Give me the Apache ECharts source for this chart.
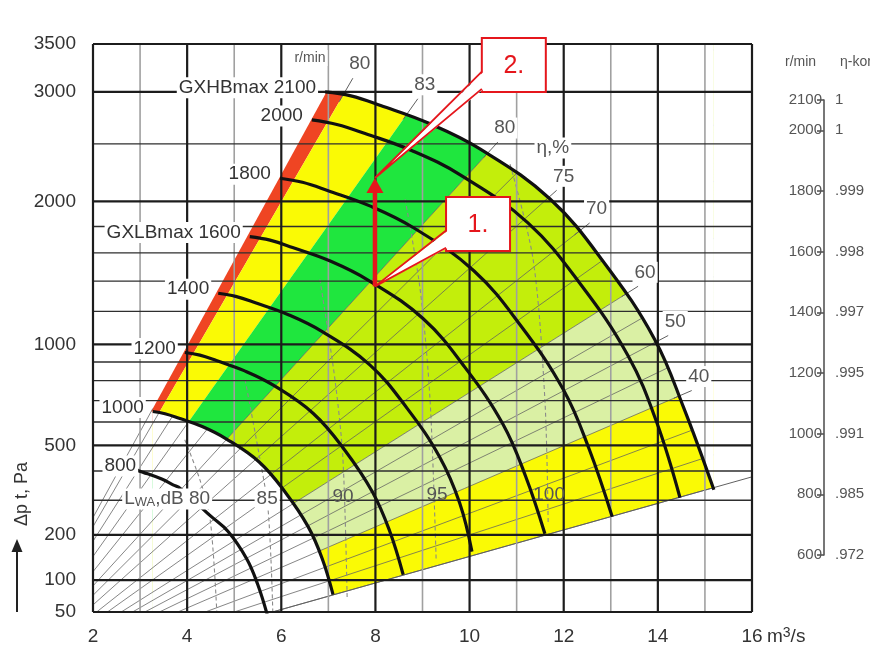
<!DOCTYPE html>
<html>
<head>
<meta charset="utf-8">
<title>GXLB / GXHB fan chart</title>
<script src="https://cdn.jsdelivr.net/npm/echarts@6.0.0/dist/echarts.min.js"></script>
<style>
  html, body { margin: 0; padding: 0; background: #ffffff; }
  #chart { width: 870px; height: 647px; }
</style>
</head>
<body>
<div id="chart"></div>
<script>
// ---------------- Axes ----------------
const flowTicks = [2, 4, 6, 8, 10, 12, 14, 16];                 // m³/s
const flowMinor = [3, 5, 7, 9, 11, 13, 15];
const pressureTicks = [50, 100, 200, 500, 1000, 2000, 3000, 3500]; // Pa
const pressureMinor = [300, 400, 600, 700, 800, 900, 1200, 1400, 1600, 1800, 2500];

// ---------------- Fan speed curves [flow m³/s, total pressure Pa] ----------------
const speeds = [2100, 2000, 1800, 1600, 1400, 1200, 1000, 800];
const curve2100 = [[6.93,3000],[7.48,2960],[8.11,2865],[9.15,2690],[10.22,2455],[11.71,2020],[12.89,1515],[13.93,1030],[14.55,665],[15.19,334]];
const curve2000 = [[6.65,2725],[7.18,2681],[7.78,2596],[8.78,2438],[9.81,2222],[11.24,1828],[12.37,1373],[13.37,933],[13.97,602],[14.47,308]];
const curve1800 = [[5.97,2195],[6.45,2160],[6.98,2091],[7.88,1964],[8.81,1790],[10.09,1472],[11.10,1106],[12.00,751],[12.54,485],[13.03,250]];
const curve1600 = [[5.33,1722],[5.76,1695],[6.24,1640],[7.04,1541],[7.86,1404],[9.01,1155],[9.91,868],[10.71,590],[11.19,381],[11.60,203]];
const curve1400 = [[4.66,1318],[5.03,1297],[5.45,1255],[6.15,1179],[6.87,1075],[7.88,884],[8.67,664],[9.37,451],[9.79,291],[10.05,159]];
const curve1200 = [[3.95,953],[4.27,938],[4.62,908],[5.21,853],[5.83,777],[6.68,639],[7.35,480],[7.94,326],[8.30,211],[8.59,110]];
const curve1000 = [[3.27,648],[3.53,638],[3.83,617],[4.32,580],[4.82,528],[5.53,434],[6.08,327],[6.57,222],[6.87,143],[7.10,75]];
const curve800  = [[2.62,415],[2.83,408],[3.07,395],[3.46,371],[3.70,351],[3.86,338],[4.49,253],[4.87,209],[5.27,142],[5.50,92],[5.70,47]];
const curves = [curve2100, curve2000, curve1800, curve1600, curve1400, curve1200, curve1000, curve800];

// ---------------- System lines p = k·Q²  (k in Pa/(m³/s)²) ----------------
const systemK = [1.48, 2.0, 2.6, 3.46, 4.3, 5.2, 6.2, 7.4, 9.4, 11.6, 14.9, 18.5, 22.4, 29.0, 37.0, 46.0, 55.5, 61.9];
// efficiency marks: [η %, k, flow on the 2100 curve, flow at the label]
const etaLines = [[80,55.5,7.33,7.52],[83,37.0,8.69,8.90],[80,22.4,10.40,10.60],[75,14.9,11.69,11.85],[70,11.6,12.33,12.55],[60,7.4,13.33,13.58],[50,5.2,13.95,14.22],[40,3.46,14.44,14.72]];
// operating bands, bounded by system lines (upper k to lower k)
const bandEdges = [61.9, 55.5, 37.0, 22.4, 7.4, 3.46, 1.48];

// ---------------- Sound power contours, LwA dB ----------------
const noiseLevels = [80, 85, 90, 95, 100];
const noise80  = [[3.95,523],[4.27,369],[4.49,241],[4.63,50]];
const noise85  = [[5.23,806],[5.51,482],[5.72,270],[5.82,50]];
const noise90  = [[6.82,1412],[7.14,806],[7.31,443],[7.40,67]];
const noise95  = [[8.63,2018],[8.95,1344],[9.16,705],[9.29,140]];
const noise100 = [[10.86,2317],[11.35,1553],[11.60,705],[11.67,227]];
const noiseCurves = [noise80, noise85, noise90, noise95, noise100];

// ---------------- Operating point change 1 -> 2 ----------------
const point1 = [7.99, 1364];
const point2 = [7.99, 2197];
const calloutText = ['1.', '2.'];

// ---------------- Speed / efficiency correction scale ----------------
const rpmScale = [2100, 2000, 1800, 1600, 1400, 1200, 1000, 800, 600];
const etaCorrection = ['1', '1', '.999', '.998', '.997', '.995', '.991', '.985', '.972'];

// ================= layout & style =================
const S = p => Math.sqrt(p);          // square-root pressure scale
const FONT = '"Liberation Sans", Arial, Helvetica, sans-serif';
const RED = '#e5161c';
const SMOOTH = 0.4;
const FAR = 40;
const bandColors = ['#ef4523', '#fafa05', '#1fe63e', '#c3ee0b', '#daf0a4', '#fafa05'];
const openBandLimit = bandEdges[3];   // system lines steeper than this stay hidden under the bands
const speedLabelText = { 2100: 'GXHBmax 2100', 1600: 'GXLBmax 1600' };
const speedLabelShift = { 800: [16, -1] };
const etaLabelShift = [7, -14];
const etaUnitAnchor = [11.77, 2463];
const rpmUnitAnchor = [6.61, 3350];
const noiseLabelAnchor = [[2.62, 304], [5.70, 304], [7.31, 310], [9.31, 317], [11.69, 317]];
const calloutBoxAnchor = [[10.18, 1819], [10.94, 3275]];

const xy = arr => arr.map(pt => [pt[0], S(pt[1])]);
const qMin = flowTicks[0], qMax = flowTicks[flowTicks.length - 1];
const pMin = pressureTicks[0], pMax = pressureTicks[pressureTicks.length - 1];

function seg(api, q1, s1, q2, s2, style) {
  const a = api.coord([q1, s1]), b = api.coord([q2, s2]);
  return { type: 'line', shape: { x1: a[0], y1: a[1], x2: b[0], y2: b[1] }, style };
}

// flow where the system line s = c·Q meets the lowest speed curve
function innerCrossing(c) {
  const pts = xy(curve1000);
  for (let i = 0; i < pts.length - 1; i++) {
    const f1 = pts[i][1] - c * pts[i][0], f2 = pts[i + 1][1] - c * pts[i + 1][0];
    if (f1 <= 0 && f2 <= 0) return pts[i][0];
    if (f1 * f2 <= 0) return pts[i][0] + (pts[i + 1][0] - pts[i][0]) * f1 / (f1 - f2);
  }
  return pts[pts.length - 1][0];
}

// ---- grid line list
const gridItems = [
  ...flowMinor.map(v => ({ dir: 'x', v, major: false })),
  ...pressureMinor.map(v => ({ dir: 'y', v, major: false })),
  ...flowTicks.map(v => ({ dir: 'x', v, major: true })),
  ...pressureTicks.map(v => ({ dir: 'y', v, major: true }))
];

// ---- text annotations
const labelItems = [];
speeds.forEach((n, i) => {
  const start = curves[i][0];
  const sh = speedLabelShift[n] || [-7, -4];
  labelItems.push({ q: start[0], p: start[1], dx: sh[0], dy: sh[1], text: speedLabelText[n] || String(n),
    align: 'right', fill: '#333', size: 19, bg: '#fff' });
});
etaLines.forEach(e => {
  labelItems.push({ q: e[3], p: e[1] * e[3] * e[3], dx: etaLabelShift[0], dy: etaLabelShift[1], text: String(e[0]),
    align: 'center', fill: '#555', size: 19, bg: '#fff' });
});
labelItems.push({ q: etaUnitAnchor[0], p: etaUnitAnchor[1], dx: 0, dy: 0, text: 'η,%', align: 'center', fill: '#555', size: 19, bg: '#fff' });
labelItems.push({ q: rpmUnitAnchor[0], p: rpmUnitAnchor[1], dx: 0, dy: 0, text: 'r/min', align: 'center', fill: '#555', size: 14, bg: '#fff' });
noiseLevels.forEach((db, i) => {
  const a = noiseLabelAnchor[i];
  if (i === 0) {
    labelItems.push({ q: a[0], p: a[1], dx: 0, dy: 0, text: '{n|L}{sub|WA}{n|,dB ' + db + '}', align: 'left', fill: '#555', size: 19, bg: '#fff',
      rich: { n: { fontSize: 19, fill: '#555', fontFamily: FONT }, sub: { fontSize: 13, fill: '#555', fontFamily: FONT, verticalAlign: 'bottom', padding: [6, 0, 0, 0] } } });
  } else {
    labelItems.push({ q: a[0], p: a[1], dx: 0, dy: 0, text: String(db), align: 'center', fill: '#555', size: 19, bg: i === 1 ? '#fff' : null });
  }
});
labelItems.push({ q: qMax, p: pMin, dx: 15, dy: 25, text: '{n|m}{sup|3}{n|/s}', align: 'left', fill: '#333', size: 19, bg: null,
  rich: { n: { fontSize: 19, fill: '#333', fontFamily: FONT }, sup: { fontSize: 14, fill: '#333', fontFamily: FONT, verticalAlign: 'top', padding: [0, 0, 8, 0] } } });

const series = [
  // coloured operating bands (wedges between system lines)
  {
    type: 'custom', z: 1, silent: true, clip: true,
    data: bandColors.map((c, i) => [i, 0]),
    renderItem: (params, api) => {
      const i = params.dataIndex;
      const cHi = Math.sqrt(bandEdges[i]), cLo = Math.sqrt(bandEdges[i + 1]);
      return { type: 'polygon', shape: { points: [api.coord([0, 0]), api.coord([FAR, cHi * FAR]), api.coord([FAR, cLo * FAR])] },
        style: { fill: bandColors[i] } };
    }
  },
  // white area inside the lowest-speed curve
  {
    type: 'line', z: 2, silent: true, data: xy(curve1000), smooth: SMOOTH, symbol: 'none',
    lineStyle: { width: 0, opacity: 0 }, areaStyle: { color: '#ffffff', opacity: 1, origin: 'start' }
  },
  {
    type: 'custom', z: 2, silent: true, clip: true, data: [[0, 0]],
    renderItem: (params, api) => {
      const a = curve1000[0];
      const p0 = api.coord([0, 0]), p1 = api.coord([a[0], S(a[1])]);
      return { type: 'rect', shape: { x: p0[0], y: p1[1], width: p1[0] - p0[0], height: p0[1] - p1[1] }, style: { fill: '#ffffff' } };
    }
  },
  // system lines
  {
    type: 'custom', z: 3, silent: true, clip: true,
    data: systemK.map((k, i) => [i, 0]),
    renderItem: (params, api) => {
      const k = systemK[params.dataIndex];
      const c = Math.sqrt(k);
      const qEnd = k > openBandLimit ? innerCrossing(c) : FAR;
      return seg(api, 0, 0, qEnd, c * qEnd, { stroke: '#606060', lineWidth: 0.9, opacity: 0.85 });
    }
  },
  // white area outside the top-speed curve
  {
    type: 'line', z: 4, silent: true, data: xy(curve2100), smooth: SMOOTH, symbol: 'none',
    lineStyle: { width: 0, opacity: 0 }, areaStyle: { color: '#ffffff', opacity: 1, origin: 'end' }
  },
  {
    type: 'custom', z: 4, silent: true, clip: true, data: [[0, 0]],
    renderItem: (params, api) => {
      const e = curve2100[curve2100.length - 1];
      const p0 = api.coord([e[0], S(e[1])]), p1 = api.coord([FAR, FAR * 4]);
      return { type: 'rect', shape: { x: p0[0], y: p1[1], width: p1[0] - p0[0], height: p0[1] - p1[1] }, style: { fill: '#ffffff' } };
    }
  },
  // lowest system line continued, efficiency ticks
  {
    type: 'custom', z: 5, silent: true, clip: true, data: [[0, 0]],
    renderItem: (params, api) => {
      const st = { stroke: '#606060', lineWidth: 1 };
      const c0 = Math.sqrt(bandEdges[bandEdges.length - 1]);
      const children = [seg(api, 0, 0, FAR, c0 * FAR, st)];
      etaLines.forEach(e => {
        const c = Math.sqrt(e[1]);
        children.push(seg(api, e[2] - 0.1, c * (e[2] - 0.1), e[3], c * e[3], st));
      });
      return { type: 'group', children };
    }
  },
  // sound power contours
  ...noiseCurves.map(nc => ({
    type: 'line', z: 5, silent: true, data: xy(nc), smooth: 0.3, symbol: 'none',
    lineStyle: { color: '#8a8a8a', width: 1.1, type: [4, 3] }
  })),
  // grid
  {
    type: 'custom', z: 6, silent: true, clip: false,
    data: gridItems.map((g, i) => [i, 0]),
    renderItem: (params, api) => {
      const g = gridItems[params.dataIndex];
      let style;
      if (g.dir === 'x') style = g.major ? { stroke: '#1c1c1c', lineWidth: 2.2 } : { stroke: '#a0a0a0', lineWidth: 1.6 };
      else style = g.major ? { stroke: '#1c1c1c', lineWidth: 2.2 } : { stroke: '#2e2e2e', lineWidth: 1.3 };
      if (g.dir === 'x') return seg(api, g.v, S(pMin), g.v, S(pMax), style);
      return seg(api, qMin, S(g.v), qMax, S(g.v), style);
    }
  },
  // fan speed curves
  ...curves.map(c => ({
    type: 'line', z: 7, silent: true, data: xy(c), smooth: SMOOTH, symbol: 'none',
    lineStyle: { color: '#111111', width: 3.2 }
  })),
  // operating point change with callouts
  {
    type: 'custom', z: 9, silent: true, clip: false, data: [[0, 0]],
    renderItem: (params, api) => {
      const children = [];
      [point1, point2].forEach((tp, i) => {
        const tip = api.coord([tp[0], S(tp[1])]);
        const c = api.coord([calloutBoxAnchor[i][0], S(calloutBoxAnchor[i][1])]);
        const w = 64, h = 54;
        const x0 = c[0] - w / 2, y0 = c[1] - h / 2;
        const bA = [x0, y0 + h * 0.62], bB = [x0, y0 + h * 0.94];
        children.push({ type: 'rect', shape: { x: x0, y: y0, width: w, height: h }, style: { fill: '#fff', stroke: RED, lineWidth: 2 } });
        children.push({ type: 'polygon', shape: { points: [tip, [bA[0] + 2, bA[1]], [bB[0] + 2, bB[1]]] }, style: { fill: '#fff' } });
        children.push({ type: 'polyline', shape: { points: [bA, tip, bB] }, style: { stroke: RED, lineWidth: 1.8, fill: null } });
        children.push({ type: 'text', x: c[0], y: c[1] + 1, style: { text: calloutText[i], fill: RED, fontSize: 25, fontFamily: FONT, align: 'center', verticalAlign: 'middle' } });
      });
      const a = api.coord([point1[0], S(point1[1])]);
      const b = api.coord([point2[0], S(point2[1])]);
      const hh = 15, hw = 17;
      children.push({ type: 'line', shape: { x1: a[0], y1: a[1], x2: b[0], y2: b[1] + hh - 1 }, style: { stroke: RED, lineWidth: 4.5 } });
      children.push({ type: 'polygon', shape: { points: [[b[0], b[1]], [b[0] - hw / 2, b[1] + hh], [b[0] + hw / 2, b[1] + hh]] }, style: { fill: RED } });
      return { type: 'group', children };
    }
  },
  // annotations
  {
    type: 'custom', z: 10, silent: true, clip: false,
    data: labelItems.map((l, i) => [i, 0]),
    renderItem: (params, api) => {
      const l = labelItems[params.dataIndex];
      const p = api.coord([l.q, S(l.p)]);
      const style = { text: l.text, fill: l.fill, fontSize: l.size, fontFamily: FONT, align: l.align, verticalAlign: 'middle' };
      if (l.bg) { style.backgroundColor = l.bg; style.padding = [1, 2]; }
      if (l.rich) style.rich = l.rich;
      return { type: 'text', x: p[0] + l.dx, y: p[1] + l.dy, style };
    }
  }
];

const chart = echarts.init(document.getElementById('chart'));
chart.setOption({
  animation: false,
  backgroundColor: '#ffffff',
  textStyle: { fontFamily: FONT },
  grid: [
    { left: 93, right: 118, top: 44, bottom: 35 },
    { left: 824, width: 1, top: 100, bottom: 92 }
  ],
  xAxis: [
    {
      gridIndex: 0, type: 'value', min: qMin, max: qMax, interval: 2,
      axisLine: { show: false }, axisTick: { show: false }, splitLine: { show: false },
      axisLabel: { fontSize: 19, color: '#333', margin: 15 }
    },
    { gridIndex: 1, type: 'value', min: 0, max: 1, show: false }
  ],
  yAxis: [
    {
      gridIndex: 0, type: 'value', min: S(pMin), max: S(pMax),
      axisLine: { show: false }, axisTick: { show: false }, splitLine: { show: false },
      axisLabel: {
        customValues: pressureTicks.map(S), fontSize: 19, color: '#333', margin: 17,
        formatter: v => String(Math.round(v * v))
      }
    },
    {
      gridIndex: 1, type: 'value', min: rpmScale[rpmScale.length - 1], max: rpmScale[0], position: 'left',
      axisLine: { show: true, lineStyle: { color: '#555', width: 1.6 } },
      axisTick: { show: true, length: 7, customValues: rpmScale, lineStyle: { color: '#555', width: 1.6 } },
      splitLine: { show: false },
      axisLabel: { customValues: rpmScale, fontSize: 15, color: '#555', margin: 2, formatter: v => String(Math.round(v)) }
    },
    {
      gridIndex: 1, type: 'value', min: rpmScale[rpmScale.length - 1], max: rpmScale[0], position: 'right',
      axisLine: { show: false }, axisTick: { show: false }, splitLine: { show: false },
      axisLabel: { customValues: rpmScale, fontSize: 15, color: '#555', margin: 10,
        formatter: v => etaCorrection[rpmScale.indexOf(Math.round(v))] }
    }
  ],
  graphic: [
    { type: 'text', x: 22, y: 494, rotation: Math.PI / 2,
      style: { text: 'Δp t, Pa', fontSize: 18, fontFamily: FONT, fill: '#333', align: 'center', verticalAlign: 'middle' } },
    { type: 'line', shape: { x1: 17, y1: 612, x2: 17, y2: 550 }, style: { stroke: '#222', lineWidth: 2 } },
    { type: 'polygon', shape: { points: [[11.5, 552], [22.5, 552], [17, 539]] }, style: { fill: '#222' } },
    { type: 'text', x: 785, y: 62, style: { text: 'r/min', fontSize: 14, fontFamily: FONT, fill: '#555', verticalAlign: 'middle' } },
    { type: 'text', x: 840, y: 62, style: { text: 'η-kor', fontSize: 14, fontFamily: FONT, fill: '#555', verticalAlign: 'middle' } }
  ],
  series
});
</script>
</body>
</html>
